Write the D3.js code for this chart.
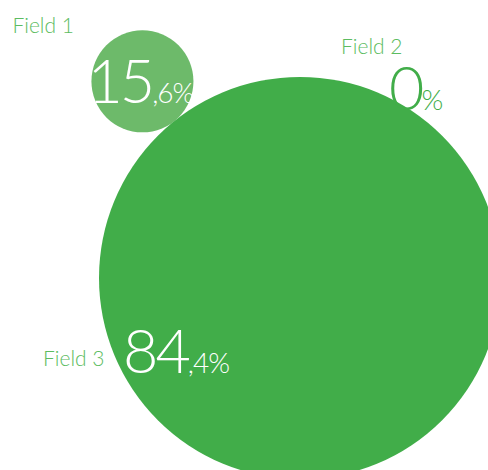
<!DOCTYPE html>
<html><head><meta charset="utf-8">
<script src="https://cdn.jsdelivr.net/npm/d3@7"></script>
<style>body{margin:0;background:#fff}</style></head>
<body><div id="chart"></div>
<script>
// Data
const fields = ["Field 1", "Field 2", "Field 3"];
const values = [15.6, 0, 84.4];

// Layout
const width = 488;
const height = 470;
const center = {x: 300, y: 278};
// angle (degrees) at which each smaller bubble sits against the biggest one
const angles = [-128.7, -60.9, 0];
// text offsets from each bubble's centre: [valueDx, valueDy, labelDx, labelDy]
const textOffsets = [
    [-55, 21.5, -130, -48.5],
    [-17, 22, -65, -34],
    [-177, 95, -257, 88]
];
const colorBig = "#41ad49";
const colorSmall = "#6dba6a";
const colorLabel = "#5cbc61";
const font = "Lato";

const radius = d3.scaleLinear()
    .domain([0, d3.max(values)])
    .range([17, 201]);

const svg = d3.select("#chart")
    .append("svg")
    .attr("width", width)
    .attr("height", height);

const maxIndex = d3.maxIndex(values);

const nodes = values.map(function(v, i) {
    let r = radius(v);
    if (i === maxIndex) {
        return {name: fields[i], value: v, r: r, x: center.x, y: center.y, big: true};
    }
    let dist = radius(values[maxIndex]) + r;
    let a = angles[i] * Math.PI / 180;
    return {name: fields[i], value: v, r: r,
        x: center.x + dist * Math.cos(a),
        y: center.y + dist * Math.sin(a), big: false};
});

// circles (zero values get no circle)
svg.append("g")
    .selectAll("circle")
    .data(nodes.filter(function(d){return d.value > 0}))
    .enter()
    .append("circle")
    .attr("cx", function(d){return d.x})
    .attr("cy", function(d){return d.y})
    .attr("r", function(d){return d.r})
    .attr("fill", function(d){return d.big ? colorBig : colorSmall});

// value texts: big integer part, small decimals and %
const valueText = svg.append("g")
    .selectAll("text")
    .data(nodes)
    .enter()
    .append("text")
    .attr("x", function(d, i){return d.x + textOffsets[i][0]})
    .attr("y", function(d, i){return d.y + textOffsets[i][1]})
    .attr("font-family", font)
    .attr("font-weight", 300)
    .attr("fill", function(d){return d.value > 0 ? "#ffffff" : colorBig});

valueText.append("tspan")
    .attr("font-size", 61)
    .attr("letter-spacing", -3)
    .text(function(d){return String(d.value).split(".")[0]});

valueText.append("tspan")
    .attr("font-size", 28)
    .attr("letter-spacing", -1)
    .text(function(d){
        let parts = String(d.value).split(".");
        return (parts.length > 1 ? "," + parts[1] : "") + "%";
    });

// field labels
svg.append("g")
    .selectAll("text")
    .data(nodes)
    .enter()
    .append("text")
    .attr("x", function(d, i){return d.x + textOffsets[i][2]})
    .attr("y", function(d, i){return d.y + textOffsets[i][3]})
    .attr("font-family", font)
    .attr("font-weight", 300)
    .attr("font-size", 21)
    .attr("fill", colorLabel)
    .text(function(d){return d.name});
</script></body></html>
